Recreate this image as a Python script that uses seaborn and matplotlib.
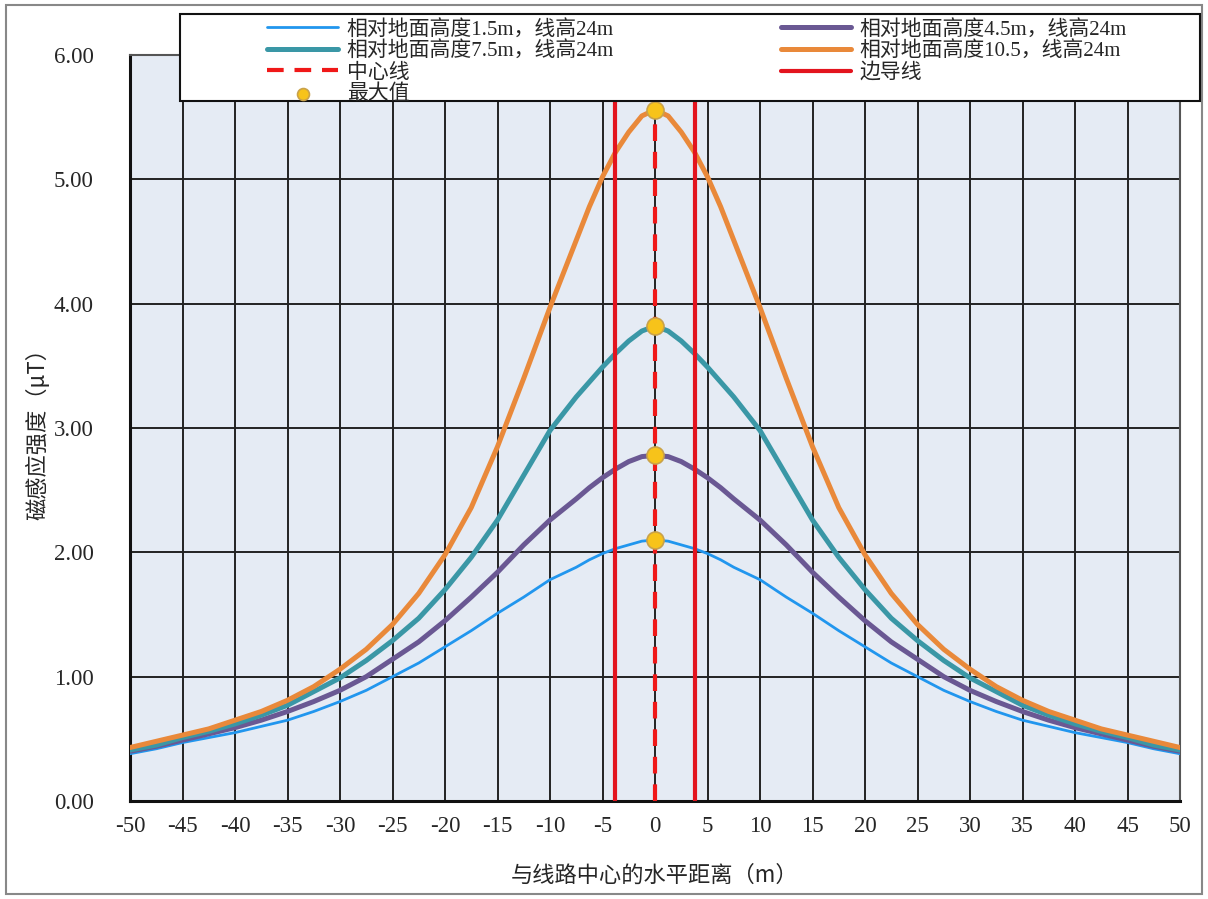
import matplotlib
matplotlib.use('Agg')
import matplotlib.pyplot as plt
import seaborn as sns
from matplotlib.patches import Rectangle

# data
dist = [-50, -47.5, -45, -42.5, -40, -37.5, -35, -32.5, -30, -27.5, -25, -22.5,
        -20, -17.5, -15, -12.5, -10, -7.5, -6.25, -5, -3.75, -2.5, -1.25, 0,
        1.25, 2.5, 3.75, 5, 6.25, 7.5, 10, 12.5, 15, 17.5, 20, 22.5, 25, 27.5,
        30, 32.5, 35, 37.5, 40, 42.5, 45, 47.5, 50]

b_h15 = [0.38, 0.42, 0.47, 0.51, 0.55, 0.60, 0.65, 0.72, 0.80, 0.89, 1.00, 1.11,
         1.24, 1.37, 1.51, 1.64, 1.78, 1.88, 1.94, 1.99, 2.03, 2.06, 2.09, 2.10,
         2.09, 2.06, 2.03, 1.99, 1.94, 1.88, 1.78, 1.64, 1.51, 1.37, 1.24, 1.11,
         1.00, 0.89, 0.80, 0.72, 0.65, 0.60, 0.55, 0.51, 0.47, 0.42, 0.38]

b_h45 = [0.40, 0.44, 0.49, 0.54, 0.59, 0.65, 0.72, 0.80, 0.89, 1.00, 1.14, 1.28,
         1.45, 1.64, 1.84, 2.06, 2.26, 2.43, 2.52, 2.60, 2.67, 2.73, 2.77, 2.78,
         2.77, 2.73, 2.67, 2.60, 2.52, 2.43, 2.26, 2.06, 1.84, 1.64, 1.45, 1.28,
         1.14, 1.00, 0.89, 0.80, 0.72, 0.65, 0.59, 0.54, 0.49, 0.44, 0.40]

b_h75 = [0.41, 0.45, 0.51, 0.56, 0.62, 0.69, 0.77, 0.88, 0.99, 1.13, 1.29, 1.47,
         1.70, 1.96, 2.26, 2.62, 2.98, 3.25, 3.37, 3.49, 3.60, 3.70, 3.78, 3.82,
         3.78, 3.70, 3.60, 3.49, 3.37, 3.25, 2.98, 2.62, 2.26, 1.96, 1.70, 1.47,
         1.29, 1.13, 0.99, 0.88, 0.77, 0.69, 0.62, 0.56, 0.51, 0.45, 0.41]

b_h105 = [0.43, 0.48, 0.53, 0.58, 0.65, 0.72, 0.81, 0.92, 1.06, 1.22, 1.42, 1.67,
          1.98, 2.36, 2.85, 3.40, 3.97, 4.51, 4.78, 5.02, 5.22, 5.38, 5.51, 5.56,
          5.51, 5.38, 5.22, 5.02, 4.78, 4.51, 3.97, 3.40, 2.85, 2.36, 1.98, 1.67,
          1.42, 1.22, 1.06, 0.92, 0.81, 0.72, 0.65, 0.58, 0.53, 0.48, 0.43]

peak_x = [0, 0, 0, 0]
peak_vals = [2.10, 2.78, 3.82, 5.56]

center_x = 0
edge_x = [-3.8, 3.8]

labels = ['相对地面高度1.5m，线高24m', '相对地面高度4.5m，线高24m',
          '相对地面高度7.5m，线高24m', '相对地面高度10.5，线高24m']
colors = ['#2196EE', '#6A5893', '#3A97A6', '#E9893A']
widths = [2.0, 3.6, 3.6, 3.6]

x_ticks = list(range(-50, 51, 5))
y_ticks = [0, 1, 2, 3, 4, 5, 6]

sns.set_style('white')
plt.rcParams['font.family'] = ['Liberation Serif', 'Noto Sans CJK SC', 'DejaVu Sans']
plt.rcParams['axes.unicode_minus'] = False
cjk = ['Noto Sans CJK SC', 'DejaVu Sans']

fig = plt.figure(figsize=(12.08, 8.99), dpi=100)
ax = fig.add_axes([130 / 1208, 1 - 801 / 899, 1050 / 1208, 746 / 899])
ax.set_facecolor('#E5EBF4')

for vals, lab, col, lw in zip([b_h15, b_h45, b_h75, b_h105], labels, colors, widths):
    sns.lineplot(x=dist, y=vals, ax=ax, color=col, lw=lw, label=lab, zorder=3)

ax.axvline(center_x, color='#F01818', lw=3, ls=(0, (4, 2.6)), zorder=4, label='中心线')
ax.axvline(edge_x[0], color='#E3141E', lw=3, zorder=4, label='边导线')
ax.axvline(edge_x[1], color='#E3141E', lw=3, zorder=4)

sns.scatterplot(x=peak_x, y=peak_vals, ax=ax, s=150, color='#F7C31A',
                edgecolor='#C9A24A', linewidth=1.2, zorder=6, label='最大值')

ax.set_xlim(-50, 50)
ax.set_ylim(0, 6)
ax.set_xticks(x_ticks)
ax.set_yticks(y_ticks)
ax.set_yticklabels(['%.2f' % v for v in y_ticks])
ax.tick_params(axis='x', labelsize=16.5, pad=11, length=0)
ax.tick_params(axis='y', labelsize=16.5, pad=26, length=0)
ax.grid(True, color='#222222', lw=1.4, zorder=1)
ax.set_axisbelow(True)
for s in ['top', 'right']:
    ax.spines[s].set_color('#555555')
    ax.spines[s].set_linewidth(1.5)
for s in ['left', 'bottom']:
    ax.spines[s].set_color('#111111')
    ax.spines[s].set_linewidth(2.2)

ax.set_xlabel('与线路中心的水平距离（m）', fontsize=16, family=cjk, labelpad=19)
ax.set_ylabel('磁感应强度（μT）', fontsize=16, family=cjk, labelpad=3)

handles, labs = ax.get_legend_handles_labels()
ax.get_legend().remove()
order = [0, 2, 4, 6, 1, 3, 5]
fig.patches.append(Rectangle((180 / 1208, 1 - 101 / 899), 1020 / 1208, 87 / 899,
                             transform=fig.transFigure, facecolor='white',
                             edgecolor='#111111', lw=1.5, zorder=1))
fig.legend([handles[i] for i in order], [labs[i] for i in order],
           loc='upper left', bbox_to_anchor=(257 / 1208, 1 - 9 / 899),
           ncol=2, frameon=False, borderpad=0, markerscale=0.7,
           handlelength=3.4, handletextpad=0.4, columnspacing=8.0,
           labelspacing=0.09, prop={'family': ['Liberation Serif', 'Noto Sans CJK SC'], 'size': 15})

# grey outer frame of the picture
fig.patches.append(Rectangle((6 / 1208, 5 / 899), 1196 / 1208, 889 / 899,
                             transform=fig.transFigure, fill=False,
                             edgecolor='#888888', lw=1.5, zorder=0))

fig.savefig('out.png', dpi=100)
